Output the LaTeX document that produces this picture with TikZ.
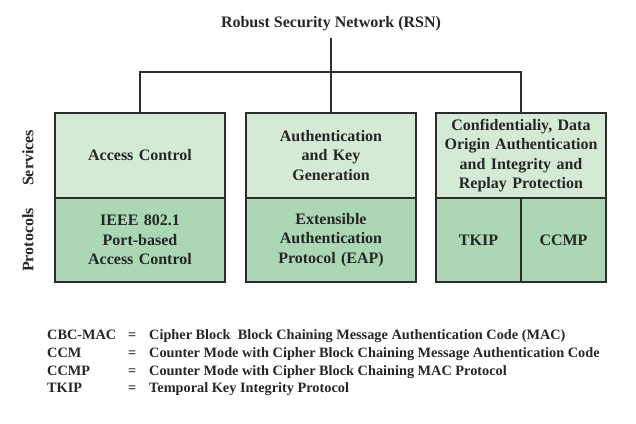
\documentclass[tikz,border=0pt]{standalone}
\usepackage{fontspec}
\setmainfont{Liberation Serif}
\definecolor{svcfill}{RGB}{213,234,213}
\definecolor{protfill}{RGB}{171,215,182}
\definecolor{edge}{RGB}{45,45,45}
\begin{document}
\begin{tikzpicture}[x=1pt,y=-1pt,
  txt/.style={font=\bfseries\fontsize{16}{19.5}\selectfont, text=black!85, align=center},
  svcbox/.style={txt, draw=edge, line width=1.4pt, fill=svcfill, minimum width=170pt, minimum height=85pt, inner sep=0pt, text width=165pt},
  protbox/.style={txt, draw=edge, line width=1.4pt, fill=protfill, minimum width=170pt, minimum height=84pt, inner sep=0pt, text width=165pt},
  halfbox/.style={protbox, minimum width=85pt, text width=80pt},
  side/.style={txt, rotate=90},
  leg/.style={font=\bfseries\fontsize{14.3}{16}\selectfont, text=black!85, anchor=base west, inner sep=0pt},
  conn/.style={draw=edge, line width=1.4pt}
]
\useasboundingbox (0,0) rectangle (636,423);
\node[txt, inner sep=0pt, anchor=base] (title) at (331,27.5) {Robust Security Network (RSN)};
\coordinate (titlebot) at (331,38);
\node[svcbox] (svc1) at (140,155.5) {Access Control};
\node[svcbox] (svc2) at (331,155.5) {Authentication\\and Key\\Generation};
\node[svcbox] (svc3) at (521,155.5) {Confidentialiy, Data\\Origin Authentication\\and Integrity and\\Replay Protection};
\node[protbox] (prot1) at (140,240) {IEEE 802.1\\Port-based\\Access Control};
\node[protbox] (prot2) at (331,240) {Extensible\\Authentication\\Protocol (EAP)};
\node[halfbox] (tkip) at (478.5,240) {TKIP};
\node[halfbox] (ccmp) at (563.5,240) {CCMP};
\node[side] (services) at (28,158) {Services};
\node[side] (protocols) at (28,240) {Protocols};
\coordinate (bus) at (331,72);
\draw[conn] (titlebot) -- (svc2.north);
\draw[conn] (svc1.north) |- (bus) -| (svc3.north);
\node[leg] (a1) at (47,339) {CBC-MAC};
\node[leg] (e1) at (128,339) {=};
\node[leg] (d1) at (149,339) {Cipher Block\ \ Block Chaining Message Authentication Code (MAC)};
\node[leg] (a2) at (47,357) {CCM};
\node[leg] (e2) at (128,357) {=};
\node[leg] (d2) at (149,357) {Counter Mode with Cipher Block Chaining Message Authentication Code};
\node[leg] (a3) at (47,375) {CCMP};
\node[leg] (e3) at (128,375) {=};
\node[leg] (d3) at (149,375) {Counter Mode with Cipher Block Chaining MAC Protocol};
\node[leg] (a4) at (47,392) {TKIP};
\node[leg] (e4) at (128,392) {=};
\node[leg] (d4) at (149,392) {Temporal Key Integrity Protocol};
\end{tikzpicture}
\end{document}
